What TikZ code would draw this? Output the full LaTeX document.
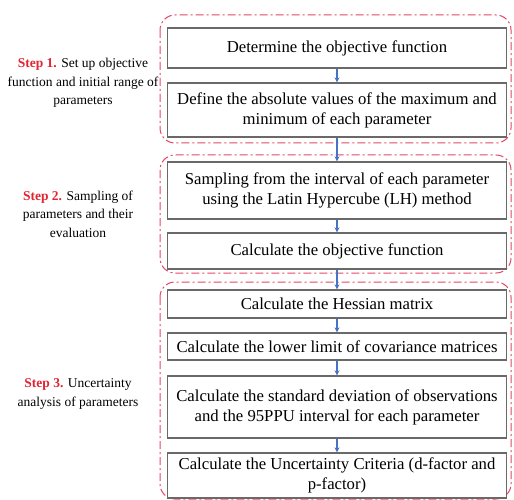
\documentclass[tikz,border=0pt]{standalone}
\usepackage{fontspec}
\setmainfont{Liberation Serif}
\usetikzlibrary{arrows.meta}
\definecolor{grpred}{RGB}{228,70,100}
\definecolor{stepred}{RGB}{225,35,50}
\definecolor{arrblue}{RGB}{70,115,195}
\definecolor{boxgray}{RGB}{105,105,105}
\tikzset{
  procbox/.style={draw=boxgray, line width=1.3pt, fill=white, minimum width=339pt, align=center, inner sep=0pt,
    font=\rmfamily\fontsize{16.7}{20}\selectfont},
  grpbox/.style={draw=grpred, line width=1pt, rounded corners=15pt, dash pattern=on 8pt off 3pt on 2pt off 3pt},
  steplabel/.style={align=center, font=\rmfamily\fontsize{13.5}{18.5}\selectfont},
  flow/.style={draw=arrblue, line width=1.1pt, -{Stealth[length=5pt,width=5pt]}}
}
\begin{document}
\begin{tikzpicture}[x=1pt,y=-1pt]
\useasboundingbox (0,0) rectangle (514,500);
% groups
\draw[grpbox] (160,15) rectangle (511,143);
\draw[grpbox] (160,155) rectangle (511,273);
\draw[grpbox] (160,282) rectangle (511,499);
% boxes
\node[procbox, minimum height=40pt] (b1) at (337,48) {Determine the objective function};
\node[procbox, minimum height=54pt] (b2) at (337,110) {Define the absolute values of the maximum and\\minimum of each parameter};
\node[procbox, minimum height=57pt] (b3) at (337,190.5) {Sampling from the interval of each parameter\\using the Latin Hypercube (LH) method};
\node[procbox, minimum height=36pt] (b4) at (337,251) {Calculate the objective function};
\node[procbox, minimum height=28pt] (b5) at (337,304) {Calculate the Hessian matrix};
\node[procbox, minimum height=27pt] (b6) at (337,346.5) {Calculate the lower limit of covariance matrices};
\node[procbox, minimum height=62pt] (b7) at (337,407) {Calculate the standard deviation of observations\\and the 95PPU interval for each parameter};
\node[procbox, minimum height=45pt] (b8) at (337,475.5) {Calculate the Uncertainty Criteria (d-factor and\\p-factor)};
% arrows
\draw[flow] (b1) -- (b2);
\draw[flow] (b2) -- (b3);
\draw[flow] (b3) -- (b4);
\draw[flow] (b4) -- (b5);
\draw[flow] (b5) -- (b6);
\draw[flow] (b6) -- (b7);
\draw[flow] (b7) -- (b8);
% labels
\node[steplabel] (s1) at (83,83) {\textcolor{stepred}{\textbf{Step 1.}} Set up objective\\function and initial range of\\parameters};
\node[steplabel] (s2) at (78,214) {\textcolor{stepred}{\textbf{Step 2.}} Sampling of\\parameters and their\\evaluation};
\node[steplabel] (s3) at (78,394) {\textcolor{stepred}{\textbf{Step 3.}} Uncertainty\\analysis of parameters};
\end{tikzpicture}
\end{document}
